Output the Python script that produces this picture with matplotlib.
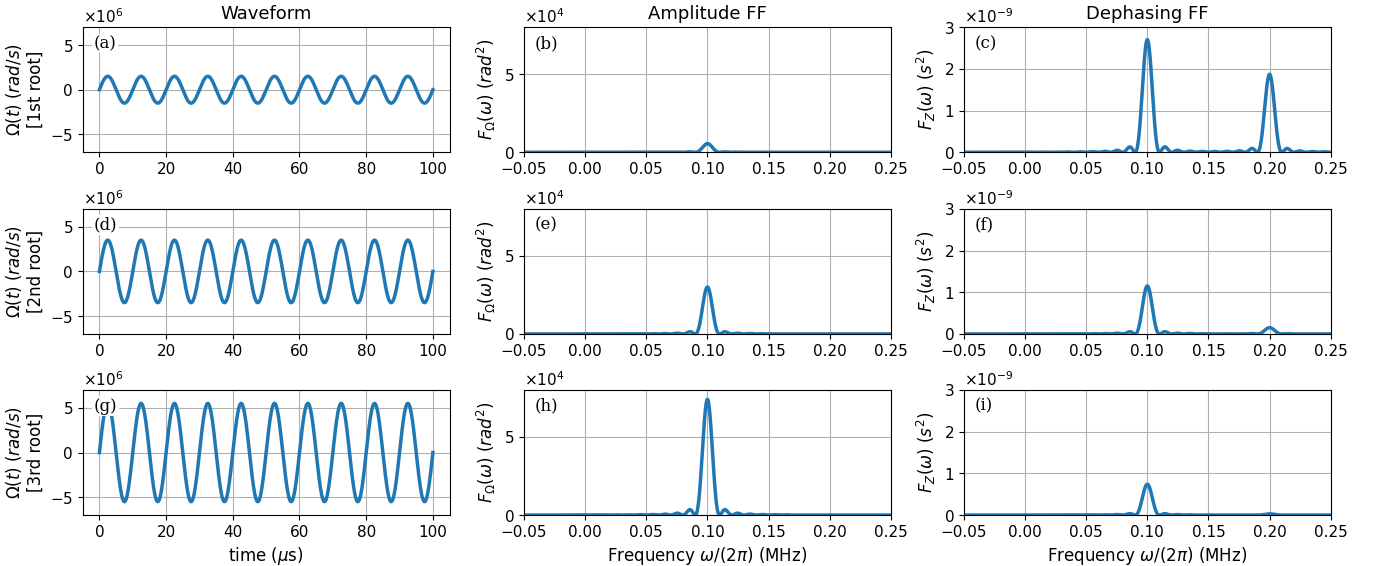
import numpy as np
import matplotlib
matplotlib.use("Agg")
import matplotlib.pyplot as plt

# values
roots = ["1st root", "2nd root", "3rd root"]
panel_tags = [["(a)", "(b)", "(c)"], ["(d)", "(e)", "(f)"], ["(g)", "(h)", "(i)"]]
wave_amp = [1.5e6, 3.5e6, 5.5e6]      # rad/s
wave_freq = 0.1                       # MHz
duration = 100                        # us
amp_ff_peak = [0.55e4, 3.0e4, 7.4e4]  # rad^2 at 0.1 MHz
deph_ff_peak1 = [2.7e-9, 1.15e-9, 0.74e-9]   # s^2 at 0.1 MHz
deph_ff_peak2 = [1.87e-9, 0.15e-9, 0.03e-9]  # s^2 at 0.2 MHz
freq_ticks = [-0.05, 0.0, 0.05, 0.10, 0.15, 0.20, 0.25]

plt.rcParams["font.size"] = 11

t = np.linspace(0, duration, 2001)
f = np.linspace(-0.05, 0.25, 3001)


def lobe(freqs, centre, height):
    return height * np.sinc((freqs - centre) * duration) ** 2


fig = plt.figure(figsize=(13.79, 5.66), dpi=100)
lefts = [0.060, 0.380, 0.699]
bottoms = [0.731, 0.410, 0.090]
w, h = 0.266, 0.221
c = "#1f77b4"

for i in range(3):
    axs = [fig.add_axes([lefts[j], bottoms[i], w, h]) for j in range(3)]

    # waveform
    ax = axs[0]
    ax.plot(t, wave_amp[i] * np.sin(2 * np.pi * wave_freq * t), color=c, lw=2.5)
    ax.set_ylim(-7e6, 7e6)
    ax.set_yticks([-5e6, 0, 5e6])
    ax.set_xticks([0, 20, 40, 60, 80, 100])
    ax.set_ylabel(r"$\Omega(t)$ $(rad/s)$" + "\n[" + roots[i] + "]", fontsize=12)
    ax.grid(True)

    # amplitude FF
    ax = axs[1]
    ax.plot(f, lobe(f, wave_freq, amp_ff_peak[i]), color=c, lw=2.5)
    ax.set_ylim(0, 8e4)
    ax.set_yticks([0, 5e4])
    ax.set_ylabel(r"$F_\Omega(\omega)$ $(rad^2)$", fontsize=12)

    # dephasing FF
    ax = axs[2]
    y = lobe(f, wave_freq, deph_ff_peak1[i]) + lobe(f, 2 * wave_freq, deph_ff_peak2[i])
    ax.plot(f, y, color=c, lw=2.5)
    ax.set_ylim(0, 3e-9)
    ax.set_yticks([0, 1e-9, 2e-9, 3e-9])
    ax.set_ylabel(r"$F_Z(\omega)$ $(s^2)$", fontsize=12)

    for ax in axs[1:]:
        ax.set_xlim(-0.05, 0.25)
        ax.set_xticks(freq_ticks)
        ax.set_xticklabels([f"{v:.2f}".replace("-", "\u2212") for v in freq_ticks])
        ax.grid(True)

    for j, ax in enumerate(axs):
        ax.ticklabel_format(axis="y", style="sci", scilimits=(0, 0), useMathText=True)
        ax.text(0.03, 0.87, panel_tags[i][j], transform=ax.transAxes, va="center",
                family="DejaVu Serif", fontsize=12,
                bbox=dict(facecolor="white", edgecolor="none", pad=1))

    if i == 0:
        axs[0].set_title("Waveform", fontsize=13)
        axs[1].set_title("Amplitude FF", fontsize=13)
        axs[2].set_title("Dephasing FF", fontsize=13)
    if i == 2:
        axs[0].set_xlabel(r"time ($\mu$s)", fontsize=12)
        axs[1].set_xlabel(r"Frequency $\omega/(2\pi)$ (MHz)", fontsize=12)
        axs[2].set_xlabel(r"Frequency $\omega/(2\pi)$ (MHz)", fontsize=12)

plt.savefig("out.png", dpi=100)
